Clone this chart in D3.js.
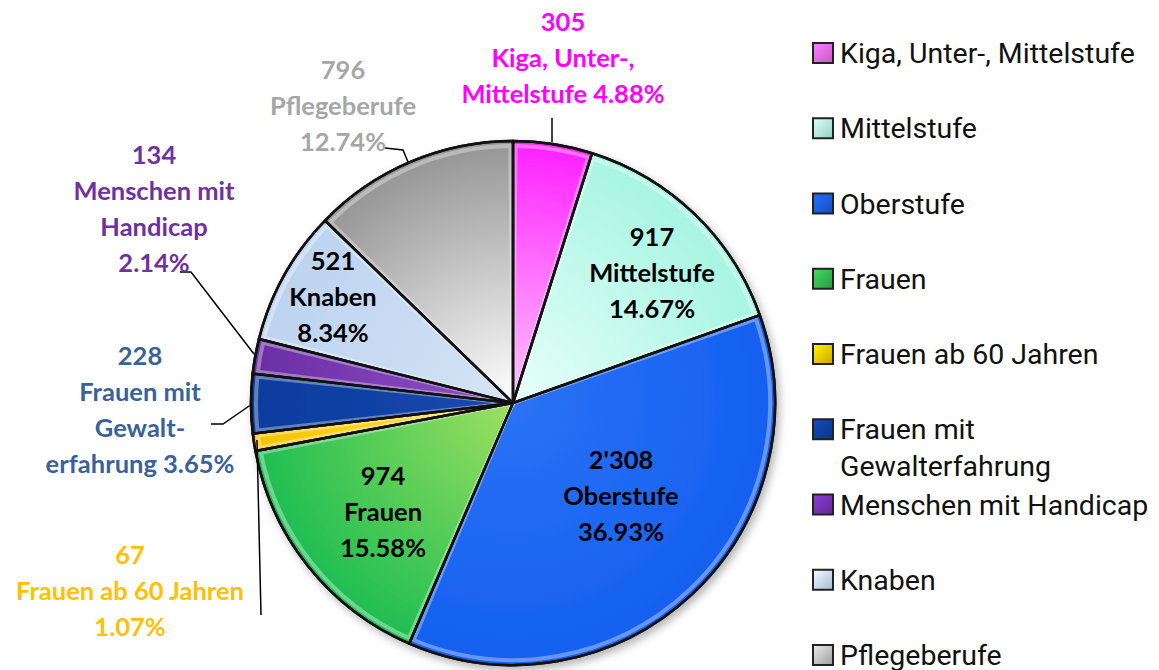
<!DOCTYPE html>
<html>
<head>
<meta charset="utf-8">
<script src="https://cdn.jsdelivr.net/npm/d3@7"></script>
<style>
  body { margin: 0; background: #fff; }
  svg { display: block; }
</style>
</head>
<body>
<div id="chart"></div>
<script>
// data
const categories = ["Kiga, Unter-, Mittelstufe", "Mittelstufe", "Oberstufe", "Frauen",
  "Frauen ab 60 Jahren", "Frauen mit Gewalterfahrung", "Menschen mit Handicap", "Knaben", "Pflegeberufe"];
const values = [305, 917, 2308, 974, 67, 228, 134, 521, 796];
const valueLabels = ["305", "917", "2'308", "974", "67", "228", "134", "521", "796"];
const labelNames = [
  ["Kiga, Unter-,", "Mittelstufe"],
  ["Mittelstufe"],
  ["Oberstufe"],
  ["Frauen"],
  ["Frauen ab 60 Jahren"],
  ["Frauen mit", "Gewalt-", "erfahrung"],
  ["Menschen mit", "Handicap"],
  ["Knaben"],
  ["Pflegeberufe"]
];
const legendLines = [
  ["Kiga, Unter-, Mittelstufe"], ["Mittelstufe"], ["Oberstufe"], ["Frauen"],
  ["Frauen ab 60 Jahren"], ["Frauen mit", "Gewalterfahrung"], ["Menschen mit Handicap"],
  ["Knaben"], ["Pflegeberufe"]
];

// styles
const outerColors = ["#ff1fff", "#a6f5e0", "#1560f0", "#1ebd52", "#f5c400", "#0b3c9c", "#6a2ea3", "#bcd3ef", "#959595"];
const innerColors = ["#ffc8ff", "#e8fffb", "#2a72f5", "#9ee060", "#ffe34d", "#1849b0", "#9152c8", "#d6e4f5", "#ffffff"];
const legendColors = ["#e060e0", "#a8e8d8", "#1a55d8", "#2fa84a", "#e8b800", "#0e3a92", "#6a2ea3", "#b8cde6", "#b0b0b0"];
const labelColors = ["#ff00ff", "#000", "#000", "#000", "#ffc000", "#3a619a", "#7030a0", "#000", "#a6a6a6"];

const width = 1159;
const height = 670;
const cx = 513, cy = 403, radius = 262;

// label layout (relative to pie centre) and leader lines
const labelPos = [
  [50, -372], [139, -157], [108, 66], [-130, 82], [-383, 161], [-373, -38], [-359, -239], [-180, -133], [-170, -324]
];
const leaders = [
  [[39, -285], [39, -261]],
  null, null, null,
  [[-252, 212], [-256, 37]],
  [[-302, 21], [-290, 21], [-261, 1]],
  [[-333, -131], [-322, -131], [-259, -49]],
  null,
  [[-128, -255], [-110, -253], [-105, -241]]
];

const total = d3.sum(values);
const fmtPct = d3.format(".2%");

const svg = d3.select("#chart").append("svg")
  .attr("width", width)
  .attr("height", height);

const defs = svg.append("defs");

const shadow = defs.append("filter").attr("id", "shadow")
  .attr("x", "-10%").attr("y", "-10%").attr("width", "120%").attr("height", "120%");
shadow.append("feDropShadow")
  .attr("dx", 3).attr("dy", 4).attr("stdDeviation", 4)
  .attr("flood-color", "#000").attr("flood-opacity", 0.3);

categories.forEach(function (c, i) {
  const g = defs.append("radialGradient")
    .attr("id", "grad" + i)
    .attr("gradientUnits", "userSpaceOnUse")
    .attr("cx", 0).attr("cy", 0).attr("r", radius);
  g.append("stop").attr("offset", "0%").attr("stop-color", innerColors[i]);
  g.append("stop").attr("offset", "100%").attr("stop-color", outerColors[i]);

  const lg = defs.append("linearGradient")
    .attr("id", "lgrad" + i)
    .attr("x1", 0).attr("y1", 0).attr("x2", 1).attr("y2", 1);
  lg.append("stop").attr("offset", "0%").attr("stop-color", d3.color(legendColors[i]).brighter(0.8));
  lg.append("stop").attr("offset", "100%").attr("stop-color", d3.color(legendColors[i]).darker(0.3));
});

const pie = d3.pie().sort(null).value(d => d);
const arcs = pie(values);

const arc = d3.arc().innerRadius(0).outerRadius(radius);
const bevelArc = d3.arc().innerRadius(0).outerRadius(radius - 5).padAngle(0.02).padRadius(radius);

const chart = svg.append("g").attr("transform", `translate(${cx},${cy})`);

const pieGroup = chart.append("g").attr("filter", "url(#shadow)");

pieGroup.selectAll("path.slice")
  .data(arcs)
  .enter().append("path")
  .attr("class", "slice")
  .attr("d", arc)
  .attr("fill", (d, i) => `url(#grad${i})`)
  .attr("stroke", "#111")
  .attr("stroke-width", 2.5)
  .attr("stroke-linejoin", "round");

// bevel highlight
chart.selectAll("path.bevel")
  .data(arcs)
  .enter().append("path")
  .attr("class", "bevel")
  .attr("d", bevelArc)
  .attr("fill", "none")
  .attr("stroke", "#fff")
  .attr("stroke-opacity", 0.35)
  .attr("stroke-width", 4);

chart.selectAll("path.slice-edge")
  .data(arcs)
  .enter().append("path")
  .attr("class", "slice-edge")
  .attr("d", arc)
  .attr("fill", "none")
  .attr("stroke", "#111")
  .attr("stroke-width", 2.5)
  .attr("stroke-linejoin", "round");

// leader lines
chart.selectAll("path.leader")
  .data(leaders.filter(d => d))
  .enter().append("path")
  .attr("class", "leader")
  .attr("d", d => d3.line()(d))
  .attr("fill", "none")
  .attr("stroke", "#000")
  .attr("stroke-width", 1.5);

// data labels
const lineH = 36;
arcs.forEach(function (d, i) {
  const pct = fmtPct(values[i] / total);
  const lines = [valueLabels[i]].concat(labelNames[i]);
  if (i === 0 || i === 5) {
    lines[lines.length - 1] = lines[lines.length - 1] + " " + pct;
  } else {
    lines.push(pct);
  }
  const t = chart.append("text")
    .attr("x", labelPos[i][0])
    .attr("y", labelPos[i][1])
    .attr("text-anchor", "middle")
    .attr("fill", labelColors[i])
    .style("font-family", "Lato, 'Open Sans', sans-serif")
    .style("font-weight", "bold")
    .style("font-size", "25.5px");
  lines.forEach(function (l, j) {
    t.append("tspan")
      .attr("x", labelPos[i][0])
      .attr("dy", j === 0 ? 0 : lineH)
      .text(l);
  });
});

// legend
const legend = svg.append("g").attr("transform", "translate(813,0)");
const legendY = d3.scalePoint().domain(d3.range(categories.length)).range([53, 655]);

categories.forEach(function (c, i) {
  const y = legendY(i);
  const item = legend.append("g").attr("transform", `translate(0,${y})`);
  item.append("rect")
    .attr("x", 0).attr("y", -10)
    .attr("width", 20).attr("height", 20)
    .attr("fill", `url(#lgrad${i})`)
    .attr("stroke", "#222")
    .attr("stroke-width", 2);
  const t = item.append("text")
    .attr("x", 27)
    .attr("y", 10)
    .attr("fill", "#111")
    .style("font-family", "Roboto, 'Noto Sans', sans-serif")
    .style("font-size", "28.5px");
  legendLines[i].forEach(function (l, j) {
    t.append("tspan").attr("x", 27).attr("dy", j === 0 ? 0 : 37).text(l);
  });
});
</script>
</body>
</html>
